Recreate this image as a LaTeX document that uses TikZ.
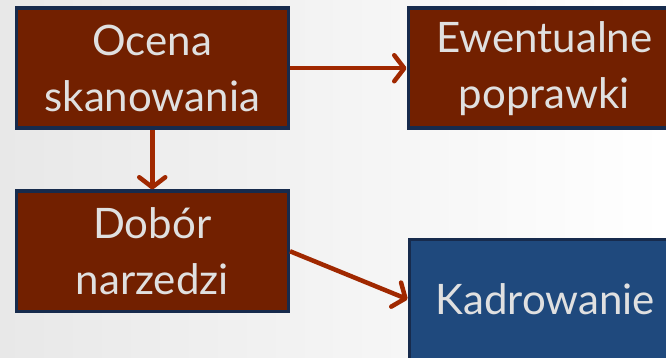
\documentclass[tikz,border=0pt]{standalone}
\usepackage{fontspec}
\setmainfont{Lato}
\usetikzlibrary{arrows.meta}
\definecolor{brownfill}{HTML}{722000}
\definecolor{bluefill}{HTML}{1F497D}
\definecolor{boxborder}{HTML}{172B4D}
\definecolor{arrowcol}{HTML}{A02800}
\definecolor{txtcol}{HTML}{E0E0E0}
\definecolor{bgleft}{HTML}{E8E8E8}
\tikzset{
  x=1pt, y=-1pt,
  box/.style={draw=boxborder, line width=3.5pt, minimum width=272pt, minimum height=120pt,
    inner sep=0pt, text=txtcol, align=center, font=\fontsize{42}{56}\selectfont, anchor=north west},
  brownbox/.style={box, fill=brownfill},
  bluebox/.style={box, fill=bluefill},
  conn/.style={draw=arrowcol, line width=4.5pt, -{Straight Barb[length=10pt,width=26pt,line cap=round,line join=round]}}
}
\begin{document}
\begin{tikzpicture}
\useasboundingbox (0,0) rectangle (666,358);
\clip (0,0) rectangle (666,358);
\shade[shading angle=60, left color=bgleft, right color=white] (0,0) rectangle (666,358);
\node[brownbox] (ocena) at (14.5,6.5) {Ocena\\skanowania};
\node[brownbox] (ewent) at (406.5,6.5) {Ewentualne\\poprawki};
\node[brownbox] (dobor) at (14.5,189.5) {Dobór\\narzedzi};
\node[bluebox] (kadr) at (407.5,237.5) {Kadrowanie};
\draw[conn] (ocena.east) -- (ewent.west);
\draw[conn] (ocena.south) -- (dobor.north);
\draw[conn] (dobor.east) -- (kadr.west);
\end{tikzpicture}
\end{document}
